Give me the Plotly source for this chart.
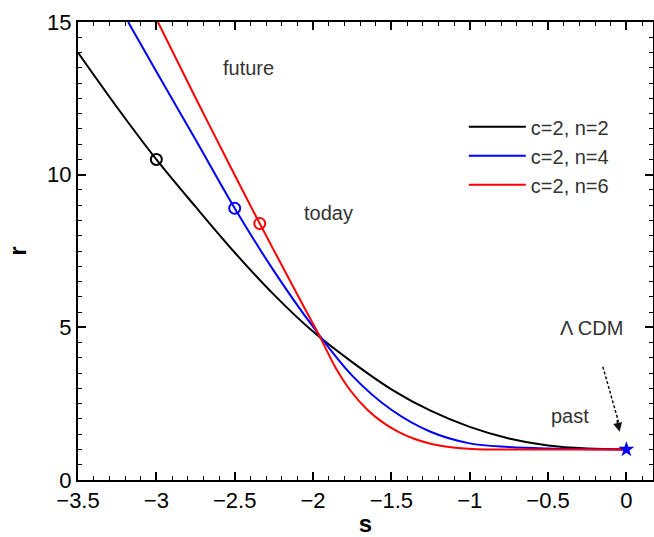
import plotly.graph_objects as go

# ---- data ----
s_n2 = [-3.5, -3.25, -3.0, -2.75, -2.5, -2.25, -2.0, -1.75, -1.5, -1.25, -1.0, -0.75, -0.5, -0.25, 0.0]
r_n2 = [14.0, 12.2, 10.5, 8.95, 7.45, 6.07, 4.86, 3.86, 2.97, 2.27, 1.74, 1.36, 1.13, 1.03, 1.0]

s_n4 = [-3.18, -3.0, -2.75, -2.5, -2.25, -2.0, -1.75, -1.5, -1.25, -1.0, -0.75, -0.5, -0.25, 0.0]
r_n4 = [15.0, 13.38, 11.15, 8.9, 6.85, 5.02, 3.42, 2.3, 1.58, 1.2, 1.08, 1.03, 1.01, 1.0]

s_n6 = [-2.99, -2.75, -2.5, -2.34, -2.2, -2.05, -1.955, -1.855, -1.755, -1.655, -1.555, -1.455, -1.355,
        -1.255, -1.155, -1.055, -0.955, -0.8, -0.5, 0.0]
r_n6 = [15.0, 12.52, 9.99, 8.4, 7.04, 5.59, 4.68, 3.67, 2.89, 2.31, 1.885, 1.575, 1.35,
        1.195, 1.10, 1.04, 1.01, 1.0, 1.0, 1.0]

today_s = [-3.0, -2.5, -2.34]
today_r = [10.5, 8.9, 8.4]

lcdm_s = [0.0]
lcdm_r = [1.0]

names = ["c=2, n=2", "c=2, n=4", "c=2, n=6"]
colors = ["#000000", "#0000ff", "#ff0000"]

x_ticks = [-3.5, -3, -2.5, -2, -1.5, -1, -0.5, 0]
x_ticklabels = ["\u22123.5", "\u22123", "\u22122.5", "\u22122", "\u22121.5", "\u22121", "\u22120.5", "0"]
y_ticks = [0, 5, 10, 15]

FONT = "Liberation Sans, Arial, Helvetica, sans-serif"

fig = go.Figure()
series = [(s_n2, r_n2), (s_n4, r_n4), (s_n6, r_n6)]
for i, (xs, ys) in enumerate(series):
    fig.add_trace(go.Scatter(
        x=xs, y=ys, mode="lines", name=names[i],
        line=dict(color=colors[i], width=2, shape="spline", smoothing=1.0),
        legendgroup="g%d" % i,
    ))

for i in range(3):
    fig.add_trace(go.Scatter(
        x=[today_s[i]], y=[today_r[i]], mode="markers", showlegend=False,
        marker=dict(symbol="circle-open", size=11, color=colors[i], line=dict(width=2, color=colors[i])),
    ))

fig.add_trace(go.Scatter(
    x=lcdm_s, y=lcdm_r, mode="markers", showlegend=False,
    marker=dict(symbol="star", size=12, color="#0000ff", line=dict(width=0)),
))

# dashed arrow toward LCDM point
fig.add_trace(go.Scatter(
    x=[-0.15, -0.05], y=[3.71, 1.9], mode="lines", showlegend=False,
    line=dict(color="#111111", width=1.5, dash="3px,2px"),
))
fig.add_annotation(x=-0.043, y=1.58, ax=-3, ay=-13, text="", showarrow=True,
                   arrowhead=2, arrowsize=1.2, arrowwidth=1.5, arrowcolor="#111111",
                   xref="x", yref="y")

ann_font = dict(family=FONT, size=20, color="#333333")
for txt, xx, yy in [("future", -2.41, 13.5), ("today", -1.90, 8.75), ("\u039b CDM", -0.22, 4.98), ("past", -0.36, 2.1)]:
    fig.add_annotation(x=xx, y=yy, text=txt, showarrow=False, font=ann_font, xref="x", yref="y")

axis_common = dict(
    showline=True, linecolor="black", linewidth=2, mirror="ticks",
    ticks="inside", ticklen=8, tickwidth=1.5, tickcolor="black",
    showgrid=False, zeroline=False, automargin=False,
    tickfont=dict(family=FONT, size=22, color="black"),
)

fig.update_xaxes(
    range=[-3.5, 0.17], tickmode="array", tickvals=x_ticks, ticktext=x_ticklabels,
    minor=dict(ticks="inside", ticklen=4, tickwidth=1.2, tickcolor="black", dtick=0.1, tick0=0, showgrid=False),
    title=dict(text="<b>s</b>", font=dict(family=FONT, size=24, color="black"), standoff=0),
    **axis_common,
)
fig.update_yaxes(
    range=[0, 15], tickmode="array", tickvals=y_ticks,
    minor=dict(ticks="inside", ticklen=4, tickwidth=1.2, tickcolor="black", dtick=0.5, tick0=0, showgrid=False),
    title=dict(text="<b>r</b>", font=dict(family=FONT, size=24, color="black"), standoff=14),
    **axis_common,
)

fig.update_layout(
    width=654, height=537,
    margin=dict(l=78, r=1, t=22, b=57),
    plot_bgcolor="white", paper_bgcolor="white",
    showlegend=True,
    legend=dict(x=0.671, y=0.814, xanchor="left", yanchor="top",
                bgcolor="rgba(0,0,0,0)", borderwidth=0,
                font=dict(family=FONT, size=20, color="#333333"),
                traceorder="grouped", tracegroupgap=0, itemwidth=57),
)

fig.write_html("out.html", config={"displayModeBar": False},
               post_script="document.body.style.margin='0px';document.body.style.overflow='hidden';")
